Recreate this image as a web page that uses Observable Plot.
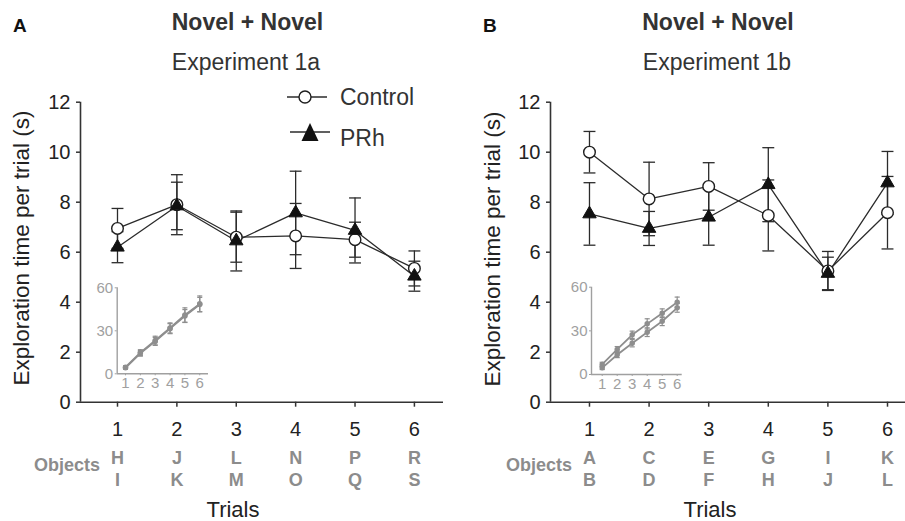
<!DOCTYPE html>
<html><head><meta charset="utf-8">
<script src="https://cdn.jsdelivr.net/npm/d3@7"></script>
<script src="https://cdn.jsdelivr.net/npm/@observablehq/plot@0.6"></script>
<style>
body{margin:0;background:#fff;}
#c{position:relative;width:905px;height:521px;overflow:hidden;font-family:"Liberation Sans",Arial,Helvetica,sans-serif;color:#222;background:#fff;}
.t{position:absolute;white-space:nowrap;line-height:1;}
.c{transform:translate(-50%,-50%);}
.cy{transform:translateY(-50%);}
.rot{transform:translate(-50%,-50%) rotate(-90deg);}
#c svg{position:absolute;}
</style></head><body><div id="c"></div>
<script>
// ---- data ----
const trials = [1, 2, 3, 4, 5, 6];
const yTicks = [0, 2, 4, 6, 8, 10, 12];
const insetYTicks = [0, 30, 60];

// Experiment 1a (panel A)
const controlA = [6.95, 7.9, 6.6, 6.65, 6.5, 5.35];
const controlAErr = [0.8, 1.2, 1.0, 1.3, 0.7, 0.7];
const prhA = [6.2, 7.85, 6.45, 7.57, 6.87, 5.04];
const prhAErr = [0.62, 0.95, 1.2, 1.67, 1.3, 0.6];
const objectsA1 = ["H", "J", "L", "N", "P", "R"];
const objectsA2 = ["I", "K", "M", "O", "Q", "S"];
// inset A (cumulative exploration)
const insetControlA = [4.6, 14.8, 23.2, 32.0, 41.0, 48.8];
const insetControlAErr = [1.0, 2.0, 3.0, 3.5, 5.0, 5.5];
const insetPrhA = [4.2, 14.3, 22.6, 31.5, 40.3, 48.3];
const insetPrhAErr = [1.0, 2.0, 2.8, 3.5, 4.5, 5.0];

// Experiment 1b (panel B)
const controlB = [10.0, 8.13, 8.63, 7.47, 5.25, 7.58];
const controlBErr = [0.83, 1.47, 0.95, 1.42, 0.78, 1.45];
const prhB = [7.53, 6.95, 7.4, 8.7, 5.15, 8.77];
const prhBErr = [1.25, 0.68, 1.12, 1.48, 0.65, 1.26];
const objectsB1 = ["A", "C", "E", "G", "I", "K"];
const objectsB2 = ["B", "D", "F", "H", "J", "L"];
// inset B
const insetControlB = [6.9, 17.2, 27.3, 34.8, 42.1, 49.7];
const insetControlBErr = [1.5, 2.0, 2.5, 3.5, 3.0, 3.5];
const insetPrhB = [4.6, 13.6, 21.5, 29.1, 36.6, 45.8];
const insetPrhBErr = [1.2, 2.0, 2.5, 3.0, 3.0, 3.0];

// ---- helpers ----
const FONT = '"Liberation Sans", Arial, Helvetica, sans-serif';
const root = document.getElementById("c");
const fmt = d => String(d);

function rowsOf(ctrl, ctrlE, prh, prhE) {
  const rows = [];
  trials.forEach((t, i) => {
    rows.push({trial: t, group: "Control", v: ctrl[i], e: ctrlE[i]});
    rows.push({trial: t, group: "PRh", v: prh[i], e: prhE[i]});
  });
  return rows;
}

function place(svg, left, top) {
  svg.style.left = left + "px";
  svg.style.top = top + "px";
  root.appendChild(svg);
}

function mainPanel(o) {
  const rows = rowsOf(o.ctrl, o.ctrlE, o.prh, o.prhE);
  const ink = "#2b2b2b";
  const cap = 0.1;
  return Plot.plot({
    width: o.width, height: 521,
    marginLeft: o.ml, marginRight: o.mr, marginTop: 101.7, marginBottom: 119.3,
    x: {domain: o.xdomain, axis: null},
    y: {domain: [0, 12], axis: null},
    style: {background: "transparent", fontFamily: FONT, fontSize: "20px", color: "#222", overflow: "visible"},
    marks: [
      Plot.ruleY([0], {stroke: "#333", strokeWidth: 1.6}),
      Plot.ruleX([o.xdomain[0]], {y1: 0, y2: 12, stroke: "#333", strokeWidth: 1.6}),
      Plot.axisY({ticks: yTicks, tickFormat: fmt, tickSize: 4, tickPadding: 6, label: null, stroke: "#333", strokeWidth: 1.5, fill: "#222", fontSize: 20}),
      Plot.axisX({ticks: trials, tickFormat: fmt, tickSize: 5, tickPadding: 15, label: null, stroke: "#333", strokeWidth: 1.5, fill: "#222", fontSize: 20}),
      Plot.text(trials, {x: d => d, text: (d, i) => o.obj1[i] + "\n" + o.obj2[i], frameAnchor: "bottom", dy: 66,
        lineAnchor: "middle", lineHeight: 1.18, fontWeight: "bold", fontSize: 18, fill: "#8c8c8c"}),
      Plot.ruleX(rows, {x: "trial", y1: d => d.v - d.e, y2: d => d.v + d.e, stroke: ink, strokeWidth: 1.3}),
      Plot.link(rows, {x1: d => d.trial - cap, x2: d => d.trial + cap, y1: d => d.v + d.e, y2: d => d.v + d.e, stroke: ink, strokeWidth: 1.3}),
      Plot.link(rows, {x1: d => d.trial - cap, x2: d => d.trial + cap, y1: d => d.v - d.e, y2: d => d.v - d.e, stroke: ink, strokeWidth: 1.3}),
      Plot.line(rows, {x: "trial", y: "v", z: "group", stroke: ink, strokeWidth: 1.3}),
      Plot.dot(rows.filter(d => d.group === "Control"), {x: "trial", y: "v", r: 5.8, fill: "white", stroke: "#1e1e1e", strokeWidth: 1.4}),
      Plot.dot(rows.filter(d => d.group === "PRh"), {x: "trial", y: "v", symbol: "triangle", r: 5, fill: "#111", stroke: "#111", strokeWidth: 1})
    ]
  });
}

function insetPanel(o) {
  const rows = rowsOf(o.ctrl, o.ctrlE, o.prh, o.prhE);
  const g = "#8e8e8e";
  const cap = 0.17;
  return Plot.plot({
    width: o.width, height: o.height,
    marginLeft: o.ml, marginRight: o.mr, marginTop: o.mt, marginBottom: o.mb,
    x: {domain: o.xdomain, axis: null},
    y: {domain: [0, 60], axis: null},
    style: {background: "transparent", fontFamily: FONT, fontSize: "15px", color: "#999", overflow: "visible"},
    marks: [
      Plot.ruleY([0], {stroke: "#a0a0a0", strokeWidth: 1.4}),
      Plot.ruleX([o.xdomain[0]], {y1: 0, y2: 60, stroke: "#a0a0a0", strokeWidth: 1.4}),
      Plot.axisY({ticks: insetYTicks, tickFormat: fmt, tickSize: 2, tickPadding: 2, label: null, stroke: "#a0a0a0", fill: "#a0a0a0", fontSize: 15}),
      Plot.axisX({ticks: trials, tickFormat: fmt, tickSize: 2, tickPadding: 2, label: null, stroke: "#a0a0a0", fill: "#a0a0a0", fontSize: 15}),
      Plot.ruleX(rows, {x: "trial", y1: d => d.v - d.e, y2: d => d.v + d.e, stroke: g, strokeWidth: 1.2}),
      Plot.link(rows, {x1: d => d.trial - cap, x2: d => d.trial + cap, y1: d => d.v + d.e, y2: d => d.v + d.e, stroke: g, strokeWidth: 1.2}),
      Plot.link(rows, {x1: d => d.trial - cap, x2: d => d.trial + cap, y1: d => d.v - d.e, y2: d => d.v - d.e, stroke: g, strokeWidth: 1.2}),
      Plot.line(rows, {x: "trial", y: "v", z: "group", stroke: g, strokeWidth: 1.8}),
      Plot.dot(rows, {x: "trial", y: "v", r: 2, fill: g, stroke: g})
    ]
  });
}

// ---- panels ----
place(mainPanel({width: 450, ml: 80, mr: 7, xdomain: [0.377, 6.49],
  ctrl: controlA, ctrlE: controlAErr, prh: prhA, prhE: prhAErr, obj1: objectsA1, obj2: objectsA2}), 0, 0);
place(mainPanel({width: 455, ml: 100, mr: 0, xdomain: [0.346, 6.302],
  ctrl: controlB, ctrlE: controlBErr, prh: prhB, prhE: prhBErr, obj1: objectsB1, obj2: objectsB2}), 450, 0);
place(insetPanel({width: 125, height: 115, ml: 26.7, mr: 7, mt: 10.3, mb: 18.7, xdomain: [0.44, 6.59],
  ctrl: insetControlA, ctrlE: insetControlAErr, prh: insetPrhA, prhE: insetPrhAErr}), 90, 277);
place(insetPanel({width: 120, height: 115, ml: 26, mr: 3.3, mt: 10.7, mb: 17, xdomain: [0.287, 6.334],
  ctrl: insetControlB, ctrlE: insetControlBErr, prh: insetPrhB, prhE: insetPrhBErr}), 565, 276);

// ---- text ----
function label(txt, x, y, cls, style) {
  const d = document.createElement("div");
  d.className = "t " + cls;
  d.textContent = txt;
  d.style.left = x + "px";
  d.style.top = y + "px";
  Object.assign(d.style, style || {});
  root.appendChild(d);
  return d;
}
label("A", 13, 25, "cy", {fontWeight: "bold", fontSize: "19px", color: "#111"});
label("B", 483, 25, "cy", {fontWeight: "bold", fontSize: "19px", color: "#111"});
label("Novel + Novel", 247.5, 22, "c", {fontWeight: "bold", fontSize: "23px", color: "#333"});
label("Experiment 1a", 246, 62, "c", {fontSize: "23px", color: "#333"});
label("Novel + Novel", 718, 22, "c", {fontWeight: "bold", fontSize: "23px", color: "#333"});
label("Experiment 1b", 717, 62, "c", {fontSize: "23px", color: "#333"});
label("Exploration time per trial (s)", 22, 248, "rot", {fontSize: "22.5px", color: "#222"});
label("Exploration time per trial (s)", 493, 249, "rot", {fontSize: "22.5px", color: "#222"});
const oa = label("Objects", 100, 465, "cy", {fontWeight: "bold", fontSize: "18px", color: "#8c8c8c"});
oa.style.transform = "translate(-100%,-50%)";
const ob = label("Objects", 572, 465, "cy", {fontWeight: "bold", fontSize: "18px", color: "#8c8c8c"});
ob.style.transform = "translate(-100%,-50%)";
label("Trials", 233, 510, "c", {fontSize: "22px", color: "#222"});
label("Trials", 710, 510, "c", {fontSize: "22px", color: "#222"});

// legend (panel A)
const ns = "http://www.w3.org/2000/svg";
const lg = document.createElementNS(ns, "svg");
lg.setAttribute("width", 60); lg.setAttribute("height", 70);
lg.style.left = "280px"; lg.style.top = "82px";
lg.innerHTML =
  '<line x1="7" x2="47" y1="15" y2="15" stroke="#2b2b2b" stroke-width="1.4"/>' +
  '<circle cx="25" cy="15" r="6" fill="white" stroke="#1e1e1e" stroke-width="1.4"/>' +
  '<line x1="10" x2="50" y1="50" y2="50" stroke="#2b2b2b" stroke-width="1.4"/>' +
  '<path d="M30,41 L38.5,59 L21.5,59 Z" fill="#111"/>';
root.appendChild(lg);
label("Control", 340, 97, "cy", {fontSize: "23px", color: "#333"});
label("PRh", 340, 138, "cy", {fontSize: "23px", color: "#333"});
</script></body></html>
